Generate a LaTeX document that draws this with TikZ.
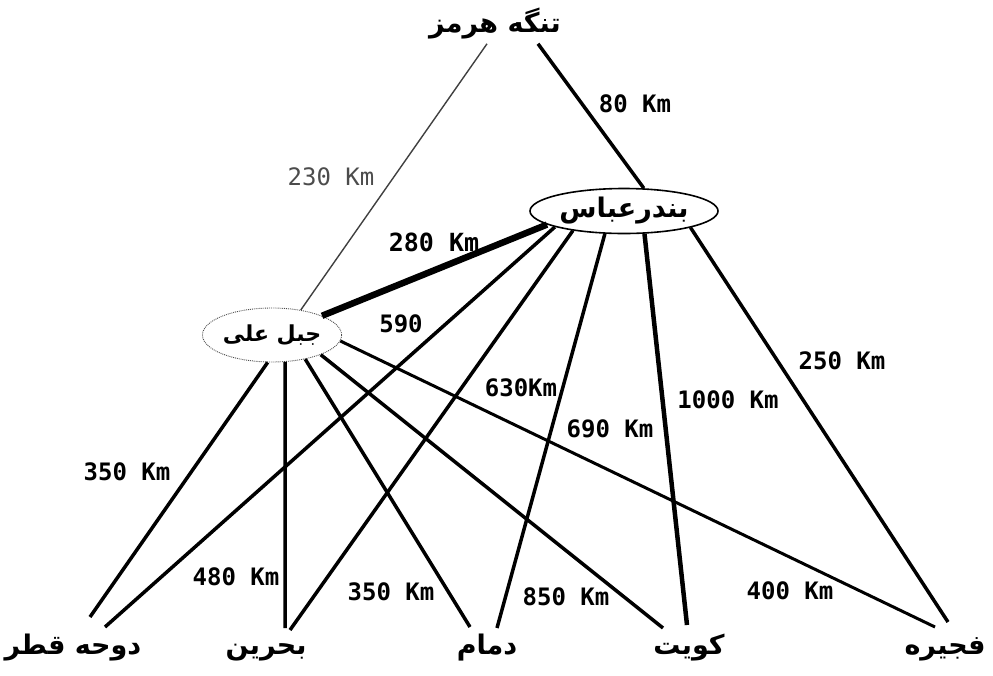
\documentclass[tikz,border=0pt]{standalone}
\usepackage{fontspec}
\newfontfamily\arabicfont[Script=Arabic]{DejaVu Sans}
\newfontfamily\distfont{DejaVu Sans Mono}
\TeXXeTstate=1
\usetikzlibrary{shapes.geometric}

\newcommand{\fa}[1]{\arabicfont\bfseries\beginR #1\endR}

\tikzset{
  city/.style={font=\fontsize{27}{30}\selectfont, inner sep=0pt},
  endcity/.style={city, anchor=base},
  port/.style={city, draw, ellipse, inner sep=1pt, line width=1.6pt, minimum width=188pt, minimum height=45pt},
  dist/.style={font=\distfont\bfseries\fontsize{24}{28}\selectfont, inner sep=0pt},
  road/.style={line width=3.5pt},
}

\begin{document}
\begin{tikzpicture}[x=1pt,y=-1pt]
  \useasboundingbox (0,0) rectangle (993,675);

  \node[city] (hormuz) at (495,24) {\fa{تنگه هرمز}};
  \node[port] (bandar) at (624,211) {\fa{بندرعباس}};
  \node[city, font=\fontsize{22}{26}\selectfont, draw=black!70, densely dotted, ellipse,
        line width=.9pt, minimum width=120pt, minimum height=54pt] (jebel) at (272,335) {\fa{جبل علی}};

  \node[endcity] (doha) at (73,654) {\fa{دوحه قطر}};
  \node[endcity] (bahrain) at (266,654) {\fa{بحرین}};
  \node[endcity] (dammam) at (487,654) {\fa{دمام}};
  \node[endcity] (kuwait) at (689,654) {\fa{کویت}};
  \node[endcity] (fujairah) at (945,654) {\fa{فجیره}};

  % from the strait
  \draw[line width=1.4pt, black!75] ([xshift=-8pt,yshift=-4pt]hormuz.south) -- (jebel.41);
  \draw[road] ([xshift=43pt,yshift=-4pt]hormuz.south) -- (bandar.49);
  \draw[line width=6.5pt] (bandar.190) -- (jebel.21);

  % from Jebel Ali
  \draw[road] (jebel.261) -- ([xshift=17pt,yshift=37pt]doha.base);
  \draw[road] (jebel.296) -- ([xshift=19pt,yshift=26pt]bahrain.base);
  \draw[road] (jebel.324) -- ([xshift=-17pt,yshift=27pt]dammam.base);
  \draw[road] (jebel.338) -- ([xshift=-26pt,yshift=26pt]kuwait.base);
  \draw[line width=3pt] (jebel.355) -- ([xshift=-10pt,yshift=27pt]fujairah.base);

  % from Bandar Abbas
  \draw[road] (bandar.193) -- ([xshift=32pt,yshift=27pt]doha.base);
  \draw[road] (bandar.201) -- ([xshift=24pt,yshift=24pt]bahrain.base);
  \draw[road] (bandar.230) -- ([xshift=10pt,yshift=26pt]dammam.base);
  \draw[line width=4.5pt] (bandar.312) -- ([xshift=-2pt,yshift=29pt]kuwait.base);
  \draw[road] (bandar.346) -- ([xshift=3pt,yshift=32pt]fujairah.base);

  \node[dist, font=\distfont\fontsize{24}{28}\selectfont, black!70] (d230) at (331,177) {230 Km};
  \node[dist] (d80) at (635,104) {80 Km};
  \node[dist, font=\distfont\bfseries\fontsize{25}{28}\selectfont] (d280) at (434,242) {280 Km};
  \node[dist] (d590) at (401,324) {590};
  \node[dist] (d630) at (521,388) {630Km};
  \node[dist] (d690) at (610,429) {690 Km};
  \node[dist] (d1000) at (728,400) {1000 Km};
  \node[dist] (d250) at (842,361) {250 Km};
  \node[dist] (d350a) at (127,472) {350 Km};
  \node[dist] (d480) at (236,577) {480 Km};
  \node[dist] (d350b) at (391,592) {350 Km};
  \node[dist] (d850) at (566,597) {850 Km};
  \node[dist] (d400) at (790,591) {400 Km};
\end{tikzpicture}
\end{document}
